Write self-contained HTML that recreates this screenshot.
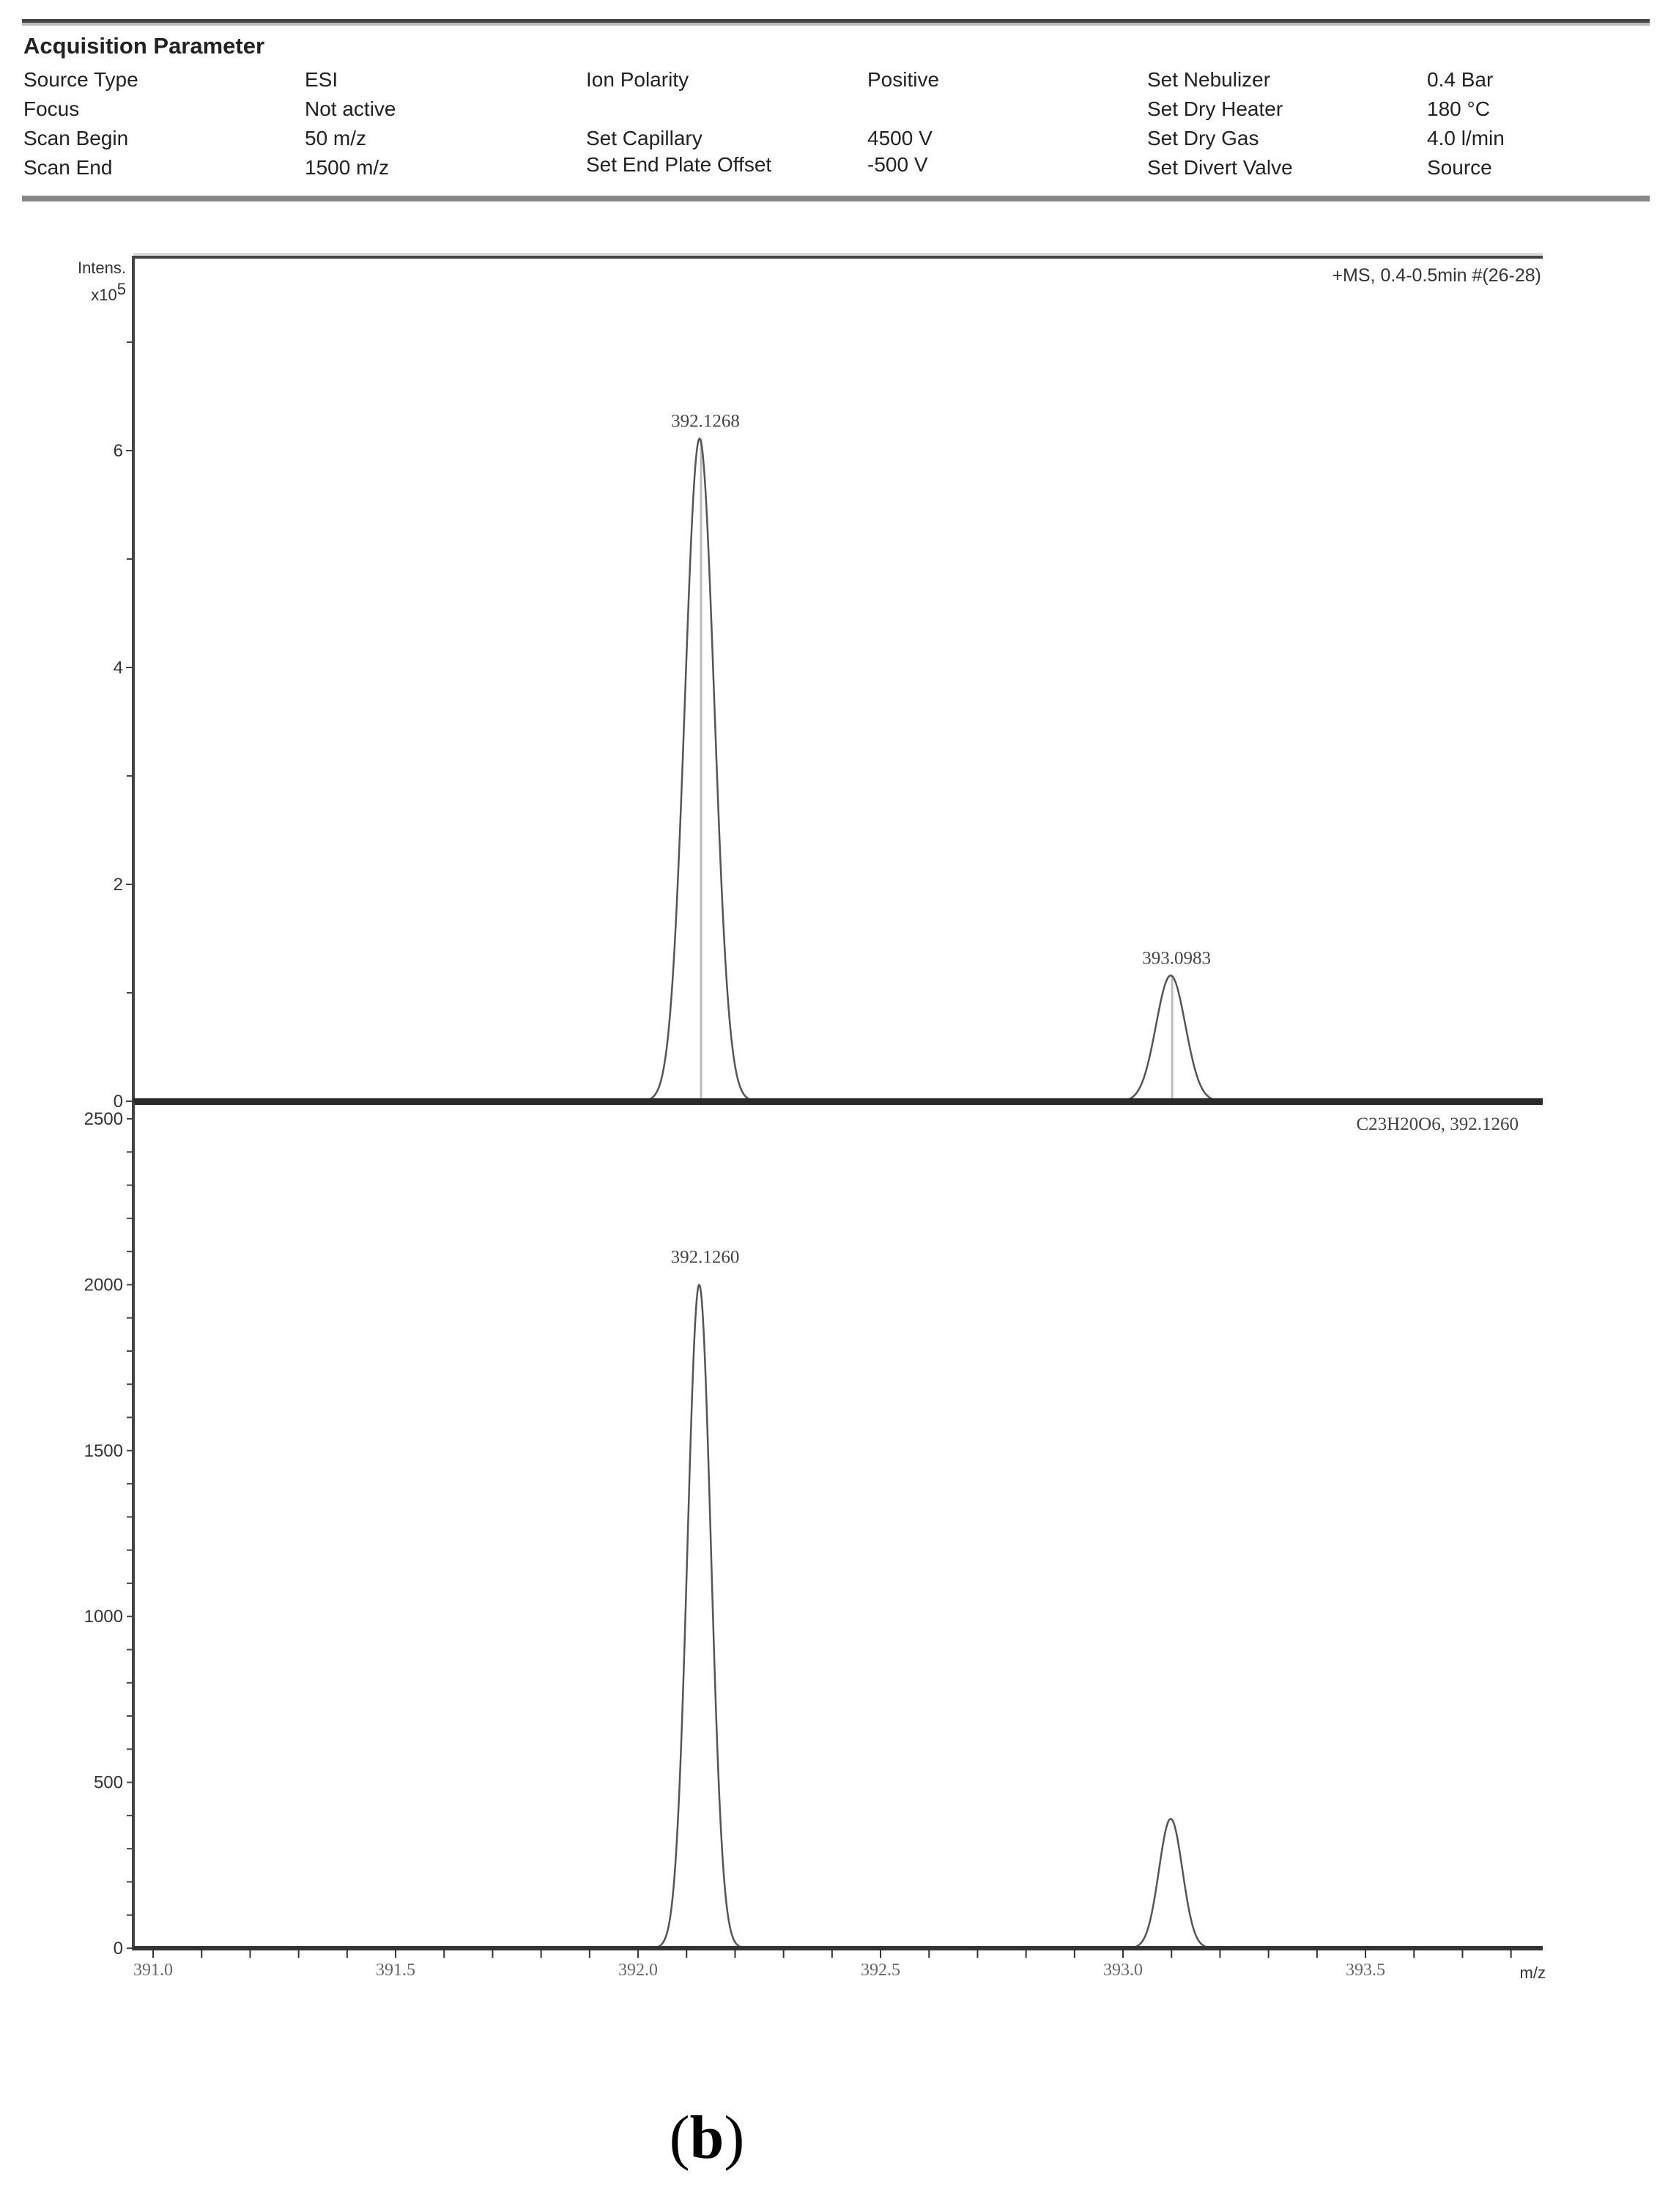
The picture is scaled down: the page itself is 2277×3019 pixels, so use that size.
<!DOCTYPE html>
<html>
<head>
<meta charset="utf-8">
<style>
html,body{margin:0;padding:0;background:#fff;}
body{width:2277px;height:3019px;overflow:hidden;}
svg{display:block;}
.h{font-family:"Liberation Sans",Arial,sans-serif;font-size:28px;fill:#222;}
.ax{font-family:"Liberation Sans",Arial,sans-serif;font-size:24px;fill:#333;}
.sf{font-family:"Liberation Serif",serif;font-size:25px;fill:#444;}
</style>
</head>
<body>
<svg id="chart" width="2277" height="3019" viewBox="0 0 2277 3019" xmlns="http://www.w3.org/2000/svg">
  <g>
    <rect x="30" y="26" width="2222" height="5" fill="#444"/>
    <rect x="30" y="31" width="2222" height="4" fill="#bbb"/>
    <text x="32" y="73" class="h" style="font-weight:bold;font-size:31px">Acquisition Parameter</text>
    <g class="h">
      <text x="32" y="118">Source Type</text>
      <text x="416" y="118">ESI</text>
      <text x="800" y="118">Ion Polarity</text>
      <text x="1184" y="118">Positive</text>
      <text x="1566" y="118">Set Nebulizer</text>
      <text x="1948" y="118">0.4 Bar</text>
      <text x="32" y="158">Focus</text>
      <text x="416" y="158">Not active</text>
      <text x="1566" y="158">Set Dry Heater</text>
      <text x="1948" y="158">180 °C</text>
      <text x="32" y="198">Scan Begin</text>
      <text x="416" y="198">50 m/z</text>
      <text x="800" y="198">Set Capillary</text>
      <text x="1184" y="198">4500 V</text>
      <text x="1566" y="198">Set Dry Gas</text>
      <text x="1948" y="198">4.0 l/min</text>
      <text x="32" y="238">Scan End</text>
      <text x="416" y="238">1500 m/z</text>
      <text x="800" y="234">Set End Plate Offset</text>
      <text x="1184" y="234">-500 V</text>
      <text x="1566" y="238">Set Divert Valve</text>
      <text x="1948" y="238">Source</text>
    </g>
    <rect x="30" y="267" width="2222" height="8" fill="#888"/>
  </g>

  <g id="topPanel"></g>
  <g id="botPanel"></g>

  <text x="965" y="2945" text-anchor="middle" style="font-family:'Liberation Serif',serif;font-size:84px;fill:#000">(<tspan font-weight="bold">b</tspan>)</text>
</svg>
<script>
// ---- data ----
const topPeakMz = [392.1268, 393.0983];
const topPeakIntensity = [6.11, 1.16];        // x10^5
const topPeakLabels = ["392.1268", "393.0983"];
const botPeakMz = [392.1260, 393.0983];
const botPeakIntensity = [2000, 390];
const botPeakLabels = ["392.1260", ""];
const topYTicks = [0, 2, 4, 6];
const topYMinor = [1, 3, 5, 7];
const botYTicks = [0, 500, 1000, 1500, 2000, 2500];
const xTickLabels = [391.0, 391.5, 392.0, 392.5, 393.0, 393.5];

// ---- axes ----
const NS = "http://www.w3.org/2000/svg";
const X0 = 182, X1 = 2106;
const xs = v => 955 + (v - 392.1268) * 662;
const yTop = v => 1503 - v * 148;
const yBot = v => 2659 - v * 0.4528;

function mk(parent, tag, attrs, name) {
  const e = document.createElementNS(NS, tag);
  for (const k in attrs) e.setAttribute(k, attrs[k]);
  
  
  parent.appendChild(e);
  return e;
}
function peakPath(mzs, ints, ys, sigma) {
  let d = "";
  for (let px = X0; px <= X1; px += 1) {
    let v = 0;
    for (let i = 0; i < mzs.length; i++) {
      const dx = px - xs(mzs[i]);
      v += ints[i] * Math.exp(-dx * dx / (2 * sigma * sigma));
    }
    d += (px === X0 ? "M" : "L") + px + "," + ys(v).toFixed(1);
  }
  return d;
}

const topG = document.getElementById('topPanel');
const botG = document.getElementById('botPanel');

// top panel frame
mk(topG, 'rect', {x: X0, y: 345, width: X1 - X0, height: 4, fill: '#ddd'}, 'top-frame-shadow');
mk(topG, 'rect', {x: X0, y: 349, width: X1 - X0, height: 4, fill: '#444'}, 'top-frame-border');
mk(topG, 'rect', {x: X0 - 2, y: 349, width: 4, height: 1158, fill: '#444'}, 'top-y-axis');
let t = mk(topG, 'text', {x: 172, y: 373, 'text-anchor': 'end', class: 'ax', style: 'font-size:22px'}, 'y-axis-title');
t.textContent = 'Intens.';
t = mk(topG, 'text', {x: 172, y: 410, 'text-anchor': 'end', class: 'ax', style: 'font-size:22px'}, 'y-axis-scale');
t.innerHTML = 'x10<tspan dy="-8">5</tspan>';
t = mk(topG, 'text', {x: 2104, y: 384, 'text-anchor': 'end', class: 'ax', style: 'font-size:25px'}, 'scan-info-label');
t.textContent = '+MS, 0.4-0.5min #(26-28)';
topYTicks.forEach(v => {
  mk(topG, 'line', {x1: X0 - 10, x2: X0, y1: yTop(v), y2: yTop(v), stroke: '#444', 'stroke-width': 2}, 'top-y-tick');
  const tt = mk(topG, 'text', {x: X0 - 14, y: yTop(v) + 8, 'text-anchor': 'end', class: 'ax'}, 'top-y-tick-label');
  tt.textContent = v;
});
topYMinor.forEach(v => {
  mk(topG, 'line', {x1: X0 - 9, x2: X0, y1: yTop(v), y2: yTop(v), stroke: '#444', 'stroke-width': 2}, 'top-y-minor-tick');
});
topPeakMz.forEach((m, i) => {
  mk(topG, 'line', {x1: xs(m) + 2, x2: xs(m) + 2, y1: yTop(topPeakIntensity[i]), y2: 1503, stroke: '#bbb', 'stroke-width': 3}, 'top-peak-stick');
});
mk(topG, 'path', {d: peakPath(topPeakMz, topPeakIntensity, yTop, 20), fill: 'none', stroke: '#555', 'stroke-width': 2.5}, 'top-spectrum-line');
topPeakMz.forEach((m, i) => {
  const tt = mk(topG, 'text', {x: xs(m) + 8, y: yTop(topPeakIntensity[i]) - 16, 'text-anchor': 'middle', class: 'sf'}, 'top-peak-label');
  tt.textContent = topPeakLabels[i];
});
mk(topG, 'rect', {x: X0, y: 1499, width: X1 - X0, height: 9, fill: '#2a2a2a'}, 'top-x-axis');

// bottom panel
mk(botG, 'rect', {x: X0 - 2, y: 1505, width: 4, height: 1157, fill: '#444'}, 'bottom-y-axis');
for (let v = 0; v <= 2500; v += 100) {
  mk(botG, 'line', {x1: X0 - 9, x2: X0, y1: yBot(v), y2: yBot(v), stroke: '#444', 'stroke-width': 2}, 'bottom-y-minor-tick');
}
botYTicks.forEach(v => {
  const tt = mk(botG, 'text', {x: X0 - 14, y: yBot(v) + 8, 'text-anchor': 'end', class: 'ax'}, 'bottom-y-tick-label');
  tt.textContent = v;
});
t = mk(botG, 'text', {x: 2073, y: 1542, 'text-anchor': 'end', class: 'sf'}, 'formula-label');
t.textContent = 'C23H20O6, 392.1260';
mk(botG, 'path', {d: peakPath(botPeakMz, botPeakIntensity, yBot, 16), fill: 'none', stroke: '#555', 'stroke-width': 2.5}, 'bottom-spectrum-line');
botPeakMz.forEach((m, i) => {
  if (!botPeakLabels[i]) return;
  const tt = mk(botG, 'text', {x: xs(m) + 8, y: yBot(botPeakIntensity[i]) - 30, 'text-anchor': 'middle', class: 'sf'}, 'bottom-peak-label');
  tt.textContent = botPeakLabels[i];
});
mk(botG, 'rect', {x: X0, y: 2656, width: X1 - X0, height: 6, fill: '#333'}, 'bottom-x-axis');
for (let v = 390.9; v <= 393.85; v += 0.1) {
  const px = xs(v);
  if (px < X0 || px > X1) continue;
  mk(botG, 'line', {x1: px, x2: px, y1: 2662, y2: 2672, stroke: '#333', 'stroke-width': 2}, 'x-minor-tick');
}
xTickLabels.forEach(v => {
  const tt = mk(botG, 'text', {x: xs(v), y: 2696, 'text-anchor': 'middle', class: 'sf', style: 'font-size:24px;fill:#666'}, 'x-tick-label');
  tt.textContent = v.toFixed(1);
});
t = mk(botG, 'text', {x: 2110, y: 2700, 'text-anchor': 'end', class: 'ax', style: 'font-size:22px'}, 'x-axis-title');
t.textContent = 'm/z';
</script>
</body>
</html>
